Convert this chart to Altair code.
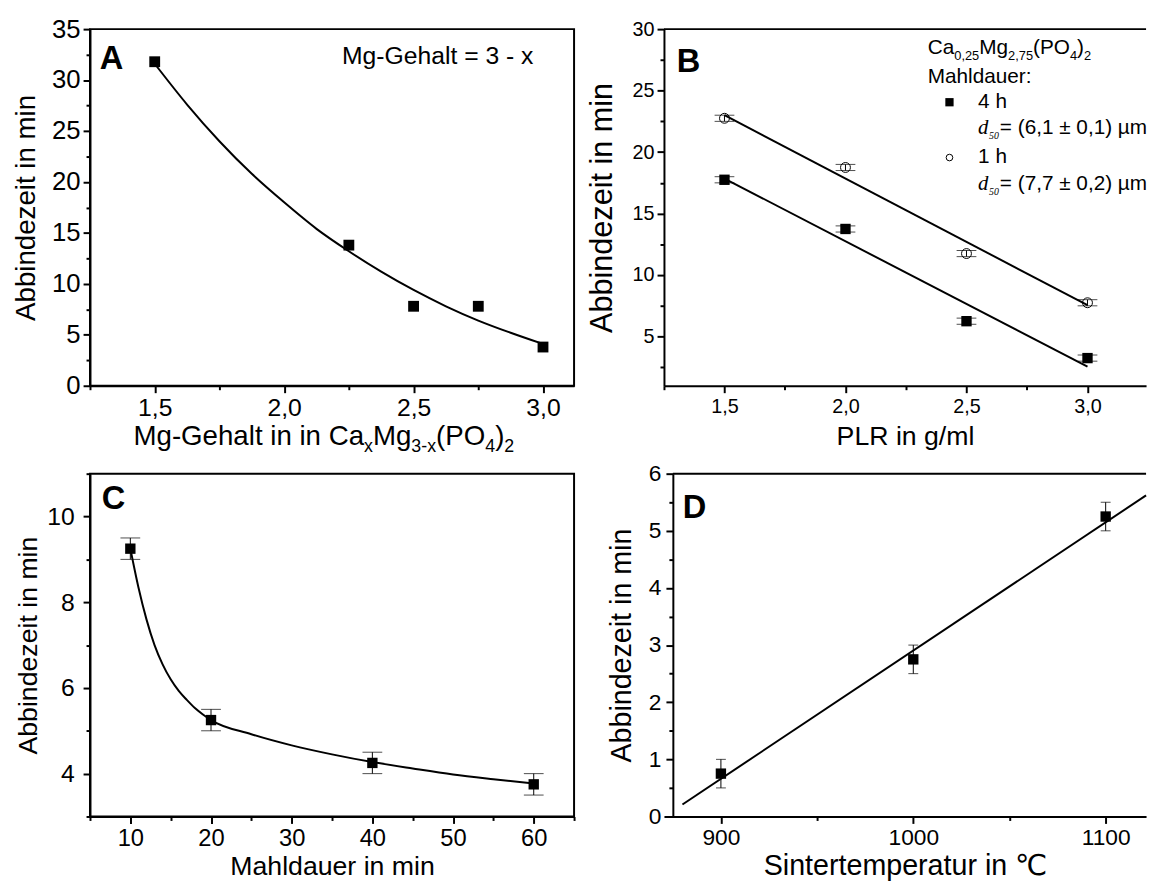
import altair as alt
import pandas as pd

FONT = "Liberation Sans, Arial, Helvetica, DejaVu Sans, sans-serif"
SERIF = "Liberation Serif, Times New Roman, DejaVu Serif, serif"

# ---------------- data ----------------
# Panel A
a_x = [1.5, 2.25, 2.5, 2.75, 3.0]
a_y = [31.8, 13.8, 7.8, 7.8, 3.8]
a_fit_x = [1.5, 1.625, 1.75, 1.875, 2.0, 2.125, 2.25, 2.375, 2.5, 2.625, 2.75, 2.875, 3.0]
a_fit_y = [31.6, 27.6, 24.0, 20.8, 18.0, 15.4, 13.2, 11.2, 9.4, 7.8, 6.4, 5.2, 4.1]
a_x_ticks = [1.25, 1.5, 1.75, 2.0, 2.25, 2.5, 2.75, 3.0]
a_y_ticks = [0, 2.5, 5, 7.5, 10, 12.5, 15, 17.5, 20, 22.5, 25, 27.5, 30, 32.5, 35]

# Panel B
b_x = [1.5, 2.0, 2.5, 3.0]
b_4h = [17.75, 13.75, 6.25, 3.25]
b_1h = [22.75, 18.75, 11.75, 7.75]
b_err = [0.25, 0.25, 0.25, 0.25]
b_fit_x = [1.5, 3.0]
b_fit_4h = [17.85, 2.55]
b_fit_1h = [23.0, 7.55]
b_x_ticks = [1.25, 1.5, 1.75, 2.0, 2.25, 2.5, 2.75, 3.0]
b_y_ticks = [2.5, 5, 7.5, 10, 12.5, 15, 17.5, 20, 22.5, 25, 27.5, 30]

# Panel C
c_x = [10, 20, 40, 60]
c_y = [9.25, 5.25, 4.25, 3.75]
c_err = [0.25, 0.25, 0.25, 0.25]
c_fit_x = [10, 11, 12, 13, 14, 15, 16, 17, 18, 19, 20, 25, 30, 35, 40, 45, 50, 55, 60]
c_fit_y = [9.25, 8.35, 7.6, 7.0, 6.55, 6.2, 5.93, 5.72, 5.53, 5.38, 5.25, 4.92, 4.66,
           4.45, 4.27, 4.12, 3.98, 3.87, 3.77]
c_x_ticks = [5, 10, 15, 20, 25, 30, 35, 40, 45, 50, 55, 60, 65]
c_y_ticks = [3, 4, 5, 6, 7, 8, 9, 10, 11]

# Panel D
d_x = [900, 1000, 1100]
d_y = [0.75, 2.75, 5.25]
d_err = [0.25, 0.25, 0.25]
d_fit_x = [880, 1121]
d_fit_y = [0.21, 5.62]
d_x_ticks = [900, 950, 1000, 1050, 1100]
d_y_ticks = [0, 0.5, 1, 1.5, 2, 2.5, 3, 3.5, 4, 4.5, 5, 5.5, 6]

# ---------------- helpers ----------------
ONE = pd.DataFrame({"k": [0]})

ARIAL = {" ": 278, "(": 333, ")": 333, ",": 278, "-": 333, "=": 584, "±": 584,
         "µ": 576, "A": 667, "C": 722, "G": 778, "M": 833, "O": 778, "P": 667,
         "a": 556, "d": 556, "e": 556, "g": 556, "h": 556, "i": 222, "l": 222,
         "n": 556, "t": 278, "x": 500, ":": 278, "u": 556, "r": 333}


def text_width(s, size):
    return sum(ARIAL.get(ch, 556) for ch in s) / 1000.0 * size


def txt(text, x, y, size, font=FONT, weight="normal", style="normal", align="left"):
    return alt.Chart(ONE).mark_text(
        text=text, font=font, fontSize=size, fontWeight=weight, fontStyle=style,
        align=align, baseline="alphabetic", color="black"
    ).encode(x=alt.value(x), y=alt.value(y))


def rich(pieces, x0, y0):
    layers = []
    x = x0
    for s, size, dy in pieces:
        layers.append(txt(s, x, y0 + dy, size))
        x += text_width(s, size)
    return layers


def hline(x1, x2, y):
    return alt.Chart(ONE).mark_rule(color="black", strokeWidth=2).encode(
        x=alt.value(x1), x2=alt.value(x2), y=alt.value(y))


def make_axis(values, step, fmt, label_size, title=None, title_size=20,
              label_pad=3, title_pad=8, offset=0):
    test = f"abs(datum.value / {step} - round(datum.value / {step})) < 0.000001"
    if fmt == "comma":
        lab = "replace(format(datum.value, '.1f'), '.', ',')"
    else:
        lab = "format(datum.value, 'd')"
    kw = dict(values=values, labelExpr=f"({test}) ? {lab} : ''",
              tickSize={"condition": {"test": test, "value": 7}, "value": 4},
              labelFontSize=label_size, labelPadding=label_pad, labelOverlap=False,
              labelFlush=False, grid=False, labelFont=FONT, labelColor="black",
              tickColor="black", tickWidth=2, domainColor="black", domainWidth=2)
    if offset:
        kw["offset"] = offset
    if title is None:
        kw["title"] = None
    else:
        kw.update(title=title, titleFontSize=title_size, titlePadding=title_pad,
                  titleFont=FONT, titleFontWeight="normal", titleColor="black")
    return alt.Axis(**kw)


def errorbars(df, xenc, cap, scale_y, axis_y):
    base = alt.Chart(df).transform_calculate(lo="datum.y - datum.e", hi="datum.y + datum.e")
    rule = base.mark_rule(color="black", strokeWidth=1).encode(
        x=xenc, y=alt.Y("lo:Q", scale=scale_y, axis=axis_y), y2="hi:Q")
    t1 = base.mark_tick(orient="horizontal", size=cap, thickness=1, color="black").encode(
        x=xenc, y=alt.Y("lo:Q", scale=scale_y, axis=axis_y))
    t2 = base.mark_tick(orient="horizontal", size=cap, thickness=1, color="black").encode(
        x=xenc, y=alt.Y("hi:Q", scale=scale_y, axis=axis_y))
    return [rule, t1, t2]


# ---------------- Panel A ----------------
axA_x = make_axis(a_x_ticks, 0.5, "comma", 25)
axA_y = make_axis(a_y_ticks, 5, "int", 26, title="Abbindezeit in min", title_size=28, title_pad=11)
sxA = alt.Scale(domain=[1.25, 3.12], nice=False, zero=False)
syA = alt.Scale(domain=[0, 35], nice=False, zero=False)
xA = alt.X("x:Q", scale=sxA, axis=axA_x)
yA = alt.Y("y:Q", scale=syA, axis=axA_y)
dfA = pd.DataFrame({"x": a_x, "y": a_y})
dfAf = pd.DataFrame({"x": a_fit_x, "y": a_fit_y})

anchor = alt.Chart(ONE).mark_rule(color="white", strokeWidth=1).encode(
    x=alt.value(-81), x2=alt.value(-80), y=alt.value(-14), y2=alt.value(-13))

A = alt.layer(
    alt.Chart(dfAf).mark_line(color="black", strokeWidth=2, interpolate="monotone").encode(x=xA, y=yA),
    alt.Chart(dfA).mark_square(size=120, color="black", opacity=1).encode(x=xA, y=yA),
    txt("A", 10, 40, 33, weight="bold"),
    txt("Mg-Gehalt = 3 - x", 352, 35, 25, align="center"),
    *rich([("Mg-Gehalt in in Ca", 28, 0), ("x", 18, 7), ("Mg", 28, 0), ("3-x", 18, 7),
           ("(PO", 28, 0), ("4", 18, 7), (")", 28, 0), ("2", 18, 7)], 44, 421),
    anchor,
).properties(width=490, height=361)

# ---------------- Panel B ----------------
axB_x = make_axis(b_x_ticks, 0.5, "comma", 20, title="PLR in g/ml", title_size=27, label_pad=4, title_pad=7)
axB_y = make_axis(b_y_ticks, 5, "int", 20, title="Abbindezeit in min", title_size=31, title_pad=14)
sxB = alt.Scale(domain=[1.25, 3.242], nice=False, zero=False)
syB = alt.Scale(domain=[1, 30], nice=False, zero=False)
xB = alt.X("x:Q", scale=sxB, axis=axB_x)
yB = alt.Y("y:Q", scale=syB, axis=axB_y)
dfB4 = pd.DataFrame({"x": b_x, "y": b_4h, "e": b_err})
dfB1 = pd.DataFrame({"x": b_x, "y": b_1h, "e": b_err})
dfBf4 = pd.DataFrame({"x": b_fit_x, "y": b_fit_4h})
dfBf1 = pd.DataFrame({"x": b_fit_x, "y": b_fit_1h})

B = alt.layer(
    alt.Chart(dfBf4).mark_line(color="black", strokeWidth=2).encode(x=xB, y=yB),
    alt.Chart(dfBf1).mark_line(color="black", strokeWidth=2).encode(x=xB, y=yB),
    *errorbars(dfB4, xB, 20, syB, axB_y),
    *errorbars(dfB1, xB, 20, syB, axB_y),
    alt.Chart(dfB4).mark_square(size=110, color="black", opacity=1).encode(x=xB, y=yB),
    alt.Chart(dfB1).mark_point(shape="circle", filled=False, size=100, color="black",
                               strokeWidth=1, opacity=1).encode(x=xB, y=yB),
    hline(0, 488, 0),
    txt("B", 13, 43, 33, weight="bold"),
    *rich([("Ca", 21, 0), ("0,25", 13, 6), ("Mg", 21, 0), ("2,75", 13, 6),
           ("(PO", 21, 0), ("4", 13, 6), (")", 21, 0), ("2", 13, 6)], 267, 25),
    txt("Mahldauer:", 267, 55, 21),
    alt.Chart(ONE).mark_square(size=70, color="black", opacity=1).encode(x=alt.value(289), y=alt.value(74)),
    txt("4 h", 318, 80, 21),
    txt("d", 318, 106, 21, font=SERIF, style="italic"),
    txt("50", 329, 111, 10, font=SERIF, style="italic"),
    txt("= (6,1 ± 0,1) µm", 340, 106, 21),
    alt.Chart(ONE).mark_point(shape="circle", filled=False, size=45, color="black",
                              strokeWidth=1, opacity=1).encode(x=alt.value(289), y=alt.value(130)),
    txt("1 h", 318, 136, 21),
    txt("d", 318, 163, 21, font=SERIF, style="italic"),
    txt("50", 329, 168, 10, font=SERIF, style="italic"),
    txt("= (7,7 ± 0,2) µm", 340, 163, 21),
).properties(width=488, height=361, view=alt.ViewBackground(stroke="transparent"))

# ---------------- Panel C ----------------
axC_x = make_axis(c_x_ticks, 10, "int", 24, title="Mahldauer in min", title_size=27, title_pad=4)
axC_y = make_axis(c_y_ticks, 2, "int", 25, title="Abbindezeit in min", title_size=27,
                  label_pad=9, title_pad=4)
sxC = alt.Scale(domain=[5, 65], nice=False, zero=False)
syC = alt.Scale(domain=[3, 11], nice=False, zero=False)
xC = alt.X("x:Q", scale=sxC, axis=axC_x)
yC = alt.Y("y:Q", scale=syC, axis=axC_y)
dfC = pd.DataFrame({"x": c_x, "y": c_y, "e": c_err})
dfCf = pd.DataFrame({"x": c_fit_x, "y": c_fit_y})

C = alt.layer(
    alt.Chart(dfCf).mark_line(color="black", strokeWidth=2, interpolate="monotone").encode(x=xC, y=yC),
    *errorbars(dfC, xC, 20, syC, axC_y),
    alt.Chart(dfC).mark_square(size=110, color="black", opacity=1).encode(x=xC, y=yC),
    txt("C", 12, 36, 33, weight="bold"),
).properties(width=490, height=347)

# ---------------- Panel D ----------------
axD_x = make_axis(d_x_ticks, 100, "int", 23, title="Sintertemperatur in ℃", title_size=29, title_pad=3)
axD_y = make_axis(d_y_ticks, 1, "int", 23, title="Abbindezeit in min", title_size=29,
                  label_pad=5, title_pad=12, offset=-9)
sxD = alt.Scale(domain=[870.4, 1121.0], nice=False, zero=False)
syD = alt.Scale(domain=[0, 6], nice=False, zero=False)
xD = alt.X("x:Q", scale=sxD, axis=axD_x)
yD = alt.Y("y:Q", scale=syD, axis=axD_y)
dfD = pd.DataFrame({"x": d_x, "y": d_y, "e": d_err})
dfDf = pd.DataFrame({"x": d_fit_x, "y": d_fit_y})

D = alt.layer(
    alt.Chart(dfDf).mark_line(color="black", strokeWidth=2).encode(x=xD, y=yD),
    *errorbars(dfD, xD, 10, syD, axD_y),
    alt.Chart(dfD).mark_square(size=110, color="black", opacity=1).encode(x=xD, y=yD),
    hline(9, 488, 0),
    txt("D", 19, 45, 33, weight="bold"),
).properties(width=488, height=347, view=alt.ViewBackground(stroke="transparent"))

chart = alt.concat(
    A, B, C, D, columns=2, spacing={"row": 89, "column": 91}, bounds="flush"
).properties(
    padding=0
).configure(
    font=FONT
).configure_view(
    stroke="black", strokeWidth=2
).configure_axis(
    domainColor="black", domainWidth=2, tickColor="black", tickWidth=2,
    labelColor="black", titleColor="black", labelFont=FONT, titleFont=FONT,
    titleFontWeight="normal"
)

chart.save("out.html", embed_options={"renderer": "svg", "actions": False})
